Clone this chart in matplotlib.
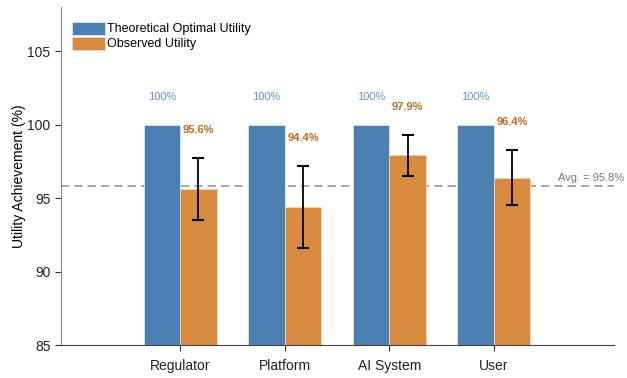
import matplotlib
matplotlib.use("Agg")
import matplotlib.pyplot as plt
import numpy as np

plt.rcParams['font.family'] = ['Liberation Sans', 'DejaVu Sans']

stakeholders = ["Regulator", "Platform", "AI System", "User"]
theoretical = [100, 100, 100, 100]
observed = [95.6, 94.4, 97.9, 96.4]
observed_err = [2.1, 2.8, 1.4, 1.9]
average = 95.8

blue = "#4C80B3"
orange = "#D98B3F"

fig = plt.figure(figsize=(6.27, 3.78), dpi=100)
ax = fig.add_axes([0.0973, 0.0873, 0.882, 0.894])

x = np.arange(len(stakeholders))
w = 0.35

ax.bar(x - w / 2, theoretical, w, color=blue, edgecolor="#dde6ef", linewidth=0.6,
       label="Theoretical Optimal Utility", zorder=2)
ax.bar(x + w / 2, observed, w, color=orange, edgecolor="#f0d6bc", linewidth=0.6,
       label="Observed Utility", zorder=2)
ax.errorbar(x + w / 2, observed, yerr=observed_err, fmt="none", ecolor="black",
            elinewidth=1.3, capsize=4, capthick=1.5, zorder=3)

for xi, t in zip(x, theoretical):
    ax.text(xi - w / 2, t + 1.9, f"{t:.0f}%", ha="center", va="center",
            fontsize=8, color="#5E92CC")
for xi, o, e in zip(x, observed, observed_err):
    ax.text(xi + w / 2, o + e + 1.9, f"{o}%", ha="center", va="center",
            fontsize=8, color="#C06A20", fontweight="bold")

ax.axhline(average, color="#999999", linestyle=(0, (5, 3)), linewidth=1.2, zorder=1)
ax.text(1.018, average + 0.25, f"Avg. = {average}%", transform=ax.get_yaxis_transform(),
        ha="right", va="bottom", fontsize=8, color="#777777")

ax.set_xlim(-1.14, 4.15)
ax.set_ylim(85, 108)
ax.set_yticks([85, 90, 95, 100, 105])
ax.set_xticks(x)
ax.set_xticklabels(stakeholders)
ax.set_ylabel("Utility Achievement (%)", fontsize=10, labelpad=1)
ax.tick_params(axis="both", labelsize=10, direction="out", length=4, color="#333333",
               labelcolor="#222222")
ax.tick_params(axis="x", pad=6)

for s in ["top", "right"]:
    ax.spines[s].set_visible(False)
ax.spines["left"].set_color("#888888")
ax.spines["bottom"].set_color("#444444")

ax.legend(loc="upper left", frameon=False, fontsize=9, handlelength=2.6,
          handleheight=1.2, handletextpad=0.15, labelspacing=0.12,
          bbox_to_anchor=(0.0, 0.99))

fig.savefig("out.png", dpi=100)
